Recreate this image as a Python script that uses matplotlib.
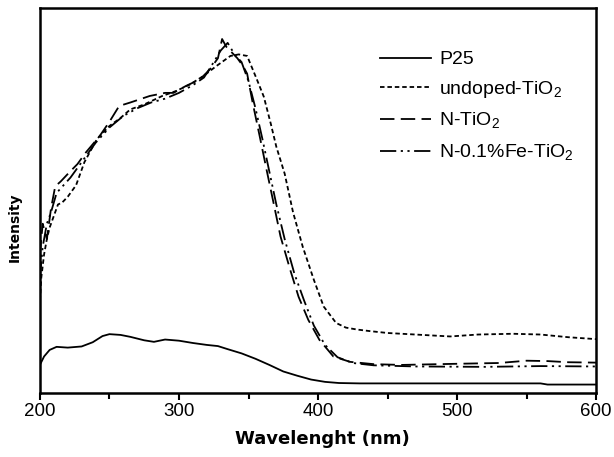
import matplotlib
matplotlib.use("Agg")
import matplotlib.pyplot as plt
from matplotlib.ticker import MultipleLocator

# P25 (solid)
wl_p25 = [200, 203, 207, 212, 220, 230, 238, 245, 250, 258, 265, 275, 282, 290, 300,
          310, 320, 328, 335, 345, 355, 365, 375, 385, 395, 405, 415, 430, 500, 560,
          565, 600]
int_p25 = [7.3, 9.5, 11.2, 12.0, 11.8, 12.1, 13.2, 14.8, 15.3, 15.1, 14.6, 13.7, 13.3,
           13.9, 13.6, 13.0, 12.5, 12.2, 11.4, 10.3, 8.9, 7.3, 5.6, 4.5, 3.5, 2.9, 2.6,
           2.5, 2.5, 2.5, 2.2, 2.2]

# undoped-TiO2 (short dash)
wl_und = [200, 201, 203, 205, 207, 210, 213, 216, 220, 226, 232, 241, 250, 258, 265,
          275, 288, 298, 308, 318, 327, 337, 343, 349, 356, 361, 366, 370, 376, 382,
          389, 397, 404, 413, 420, 428, 437, 450, 470, 495, 515, 540, 560, 580, 600]
int_und = [24, 30, 36, 40, 43, 46, 49, 49.5, 51, 54, 60, 66, 69.4, 71.5, 73.7,
           75, 77.2, 78.5, 80.2, 82.5, 85, 87.6, 88, 87.6, 81.5, 77, 70, 64, 57, 47,
           38, 29.4, 22.5, 18.2, 17, 16.5, 16.1, 15.6, 15.2, 14.7, 15.2, 15.4, 15.2, 14.5, 14]

# N-TiO2 (long dash)
wl_n = [200, 202, 205, 208, 211, 215, 221, 227, 233, 243, 250, 257, 265, 279, 290,
        296, 305, 315, 322, 328, 331, 334, 338, 342, 346, 349, 353, 358, 363, 368,
        373, 380, 386, 393, 401, 411, 423, 440, 460, 500, 530, 550, 565, 580, 600]
int_n = [36, 44, 40, 48, 53.7, 55, 57.3, 59.5, 62.5, 66.8, 70.5, 74.6, 75.5, 77.2, 78,
         78, 79.8, 81.5, 84, 87, 92, 90, 88.5, 87, 85, 83, 75.4, 66.8, 58, 49.4,
         40.7, 32, 25, 19, 13.8, 9.5, 8.1, 7.5, 7.3, 7.6, 7.8, 8.4, 8.3, 8.0, 7.9]

# N-0.1%Fe-TiO2 (dash-dot-dot)
wl_fe = [200, 202, 205, 208, 212, 217, 222, 230, 240, 250, 260, 270, 280, 290, 300,
         310, 318, 325, 330, 335, 340, 345, 350, 355, 360, 365, 370, 376, 383, 390,
         397, 405, 414, 425, 440, 470, 520, 560, 600]
int_fe = [30, 38, 44, 47, 52, 54, 56, 60, 65, 69, 72, 74, 75.5, 76.5, 78,
          80, 82, 86, 89, 91, 88, 86, 81, 74, 66, 57.5, 49, 40, 31, 24,
          17.5, 12.5, 9.3, 7.8, 7.2, 6.9, 6.8, 7.0, 6.9]

labels = ["P25", "undoped-TiO$_2$", "N-TiO$_2$", "N-0.1%Fe-TiO$_2$"]

plt.rcParams['font.family'] = ['Liberation Sans', 'DejaVu Sans']
plt.rcParams['mathtext.fontset'] = 'custom'
plt.rcParams['mathtext.rm'] = 'Liberation Sans'

fig = plt.figure(figsize=(6.14, 4.57), dpi=100)
ax = fig.add_axes([0.065, 0.140, 0.906, 0.842])

ax.plot(wl_p25, int_p25, color='black', lw=1.3, label=labels[0])
ax.plot(wl_und, int_und, color='black', lw=1.3, dashes=(2.5, 1.6), label=labels[1])
ax.plot(wl_n, int_n, color='black', lw=1.3, dashes=(8, 3.5), label=labels[2])
ax.plot(wl_fe, int_fe, color='black', lw=1.3, dashes=(9, 2.5, 1.2, 2.5, 1.2, 2.5),
        label=labels[3])

ax.set_xlim(200, 600)
ax.set_ylim(0, 100)
ax.xaxis.set_major_locator(MultipleLocator(100))
ax.xaxis.set_minor_locator(MultipleLocator(50))
ax.tick_params(axis='x', which='major', direction='out', length=5, width=1.5,
               labelsize=13.5, pad=2)
ax.tick_params(axis='x', which='minor', direction='out', length=4, width=1.5)
ax.set_yticks([])
for s in ax.spines.values():
    s.set_linewidth(1.8)

ax.set_xlabel("Wavelenght (nm)", family='DejaVu Sans', fontweight='bold',
              fontsize=13)
ax.xaxis.set_label_coords(0.507, -0.097)
ax.set_ylabel("Intensity", family='DejaVu Sans', fontweight='bold', fontsize=10)
ax.yaxis.set_label_coords(-0.032, 0.43)

ax.legend(loc='upper left', bbox_to_anchor=(0.58, 0.935), frameon=False, fontsize=14,
          handlelength=2.6, handletextpad=0.45, labelspacing=0.56)

fig.savefig("out.png", dpi=100)
